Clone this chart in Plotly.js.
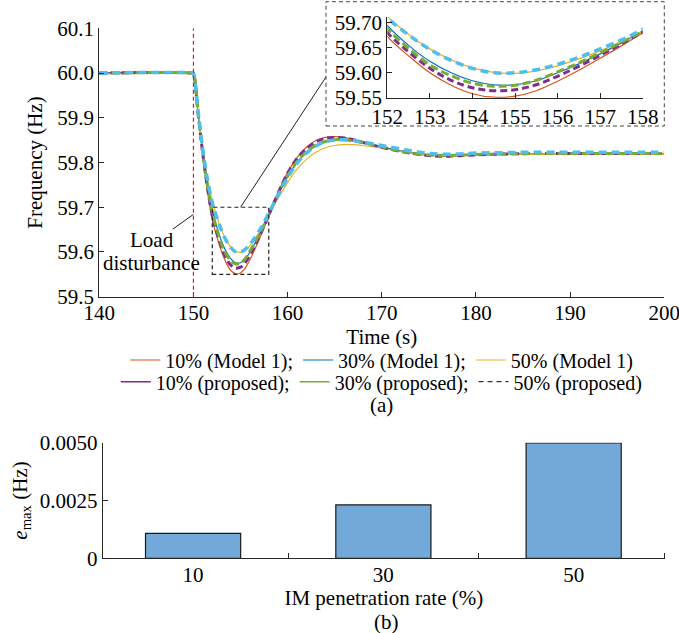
<!DOCTYPE html>
<html>
<head>
<meta charset="utf-8">
<script src="https://cdn.plot.ly/plotly-3.0.1.min.js"></script>
<style>
html,body{margin:0;padding:0;background:#fff;font-family:'Liberation Serif','Times New Roman',serif}
#chart{width:679px;height:633px}
svg text, svg tspan { font-family: 'Liberation Serif', 'Times New Roman', serif !important; }
</style>
</head>
<body>
<div id="chart"></div>
<script>
// ---- Data ----
const T = [140, 149.9, 150, 150.5, 151, 151.5, 152, 152.5, 153, 153.5, 154, 154.5, 155, 155.5, 156, 156.5, 157, 157.5, 158,
  159, 160, 161, 162, 163, 164, 165, 166, 167, 168, 170, 172, 174, 176, 178, 180, 183, 186, 190, 195, 200];

const f10Model1 = [60.000, 60.000, 59.999, 59.908, 59.815, 59.735, 59.673, 59.634, 59.600, 59.575, 59.558, 59.551, 59.553, 59.564, 59.583, 59.605, 59.629, 59.654, 59.680,
  59.733, 59.778, 59.811, 59.834, 59.849, 59.856, 59.858, 59.856, 59.851, 59.845, 59.834, 59.825, 59.818, 59.815, 59.816, 59.818, 59.819, 59.819, 59.819, 59.819, 59.819];
const f30Model1 = [60.000, 60.000, 59.999, 59.910, 59.822, 59.750, 59.695, 59.655, 59.623, 59.600, 59.584, 59.576, 59.576, 59.584, 59.600, 59.618, 59.638, 59.660, 59.683,
  59.728, 59.768, 59.800, 59.822, 59.837, 59.846, 59.850, 59.850, 59.848, 59.844, 59.835, 59.826, 59.819, 59.816, 59.816, 59.818, 59.819, 59.819, 59.819, 59.819, 59.819];
const f50Model1 = [59.998, 59.998, 59.997, 59.913, 59.828, 59.762, 59.713, 59.677, 59.648, 59.626, 59.610, 59.601, 59.599, 59.604, 59.614, 59.628, 59.644, 59.662, 59.683,
  59.720, 59.755, 59.785, 59.807, 59.823, 59.833, 59.838, 59.840, 59.840, 59.838, 59.832, 59.825, 59.819, 59.816, 59.816, 59.817, 59.818, 59.818, 59.818, 59.818, 59.818];
const f10Proposed = [60.000, 60.000, 59.999, 59.909, 59.818, 59.742, 59.681, 59.642, 59.609, 59.585, 59.570, 59.564, 59.566, 59.576, 59.593, 59.613, 59.635, 59.658, 59.682,
  59.732, 59.776, 59.809, 59.831, 59.846, 59.854, 59.856, 59.855, 59.851, 59.845, 59.834, 59.825, 59.818, 59.814, 59.815, 59.817, 59.819, 59.820, 59.820, 59.820, 59.820];
const f30Proposed = [60.000, 60.000, 59.999, 59.910, 59.820, 59.747, 59.689, 59.649, 59.616, 59.594, 59.579, 59.573, 59.575, 59.585, 59.602, 59.620, 59.640, 59.661, 59.683,
  59.729, 59.769, 59.802, 59.824, 59.839, 59.847, 59.851, 59.851, 59.848, 59.844, 59.835, 59.826, 59.819, 59.816, 59.816, 59.818, 59.819, 59.820, 59.820, 59.820, 59.820];
const f50Proposed = [60.000, 60.000, 59.999, 59.913, 59.828, 59.761, 59.711, 59.676, 59.647, 59.625, 59.609, 59.600, 59.600, 59.606, 59.617, 59.631, 59.648, 59.666, 59.687,
  59.727, 59.766, 59.798, 59.821, 59.837, 59.846, 59.850, 59.851, 59.849, 59.846, 59.838, 59.830, 59.823, 59.819, 59.819, 59.821, 59.822, 59.823, 59.823, 59.823, 59.823];

const seriesNames = ['10% (Model 1);', '30% (Model 1);', '50% (Model 1)', '10% (proposed);', '30% (proposed);', '50% (proposed)'];

const penetration = [10, 30, 50];
const eMax = [0.00108, 0.00231, 0.00499];
const barTickVals = [0, 0.0025, 0.005];
const barTickText = ['0', '0.0025', '0.0050'];
const barCatText = ['10', '30', '50'];

// ---- Styles ----
const FONT = 'Liberation Serif';
const FS = 21;
const LFS = 20;
const AX = '#262626';
const styles = [
  {color: '#D95319', width: 1.2, dash: 'solid'},
  {color: '#0072BD', width: 1.2, dash: 'solid'},
  {color: '#EDB120', width: 1.2, dash: 'solid'},
  {color: '#7E2F8E', width: 3, dash: '7px,4px'},
  {color: '#77AC30', width: 3, dash: '8px,4px'},
  {color: '#4DBEEE', width: 3.5, dash: '8px,5px'}
];
const values = [f10Model1, f30Model1, f50Model1, f10Proposed, f30Proposed, f50Proposed];

const traces = [];
values.forEach((v, i) => {
  traces.push({
    x: T, y: v, type: 'scatter', mode: 'lines', name: seriesNames[i],
    xaxis: 'x', yaxis: 'y',
    line: {color: styles[i].color, width: styles[i].width, dash: styles[i].dash, shape: 'spline', smoothing: 1},
    showlegend: i < 3, legend: 'legend', hoverinfo: 'skip'
  });
});
values.forEach((v, i) => {
  traces.push({
    x: T, y: v, type: 'scatter', mode: 'lines', name: seriesNames[i],
    xaxis: 'x2', yaxis: 'y2',
    line: {color: styles[i].color, width: styles[i].width, dash: styles[i].dash, shape: 'spline', smoothing: 1},
    showlegend: false, hoverinfo: 'skip'
  });
});
const legendSamples = [
  {color: '#7E2F8E', width: 1.5, dash: 'solid'},
  {color: '#77AC30', width: 1.5, dash: 'solid'},
  {color: '#333333', width: 1.2, dash: '5px,4px'}
];
legendSamples.forEach((s, k) => {
  traces.push({
    x: [null], y: [null], type: 'scatter', mode: 'lines', name: seriesNames[3 + k],
    xaxis: 'x', yaxis: 'y', line: s, showlegend: true, legend: 'legend2', hoverinfo: 'skip'
  });
});
traces.push({
  x: penetration, y: eMax, type: 'bar', xaxis: 'x3', yaxis: 'y3', width: 10,
  marker: {color: '#72A9D8', line: {color: '#1a1a1a', width: 1.2}},
  showlegend: false, hoverinfo: 'skip'
});

const W = 679, H = 633;
const px = v => v / W;
const py = v => 1 - v / H;

function fnt(size) { return {family: FONT, size: size}; }

function axisCommon() {
  return {
    showline: true, linecolor: AX, linewidth: 1, mirror: false,
    showgrid: false, zeroline: false,
    ticks: 'inside', ticklen: 5, tickcolor: AX, tickwidth: 1,
    ticklabeloverflow: 'allow',
    tickfont: fnt(FS)
  };
}

const layout = {
  width: W, height: H, autosize: false,
  margin: {l: 0, r: 0, t: 0, b: 0, pad: 0},
  paper_bgcolor: '#fff', plot_bgcolor: 'rgba(0,0,0,0)',
  font: {family: FONT, size: FS, color: '#000'},
  showlegend: true,
  xaxis: Object.assign(axisCommon(), {
    domain: [px(99.3), px(664.3)], range: [140, 200.01], anchor: 'y',
    tickmode: 'linear', tick0: 140, dtick: 10, ticklabelstandoff: -3,
    title: {text: 'Time (s)', font: fnt(FS), standoff: 0}
  }),
  yaxis: Object.assign(axisCommon(), {
    domain: [py(296.7), py(28.3)], range: [59.5, 60.1], anchor: 'x',
    tickmode: 'linear', tick0: 59.5, dtick: 0.1, tickformat: '.1f',
    title: {text: 'Frequency (Hz)', font: fnt(FS), standoff: 8}
  }),
  xaxis2: Object.assign(axisCommon(), {
    domain: [px(387.3), px(642.7)], range: [152, 158], anchor: 'y2',
    tickmode: 'linear', tick0: 152, dtick: 1
  }),
  yaxis2: Object.assign(axisCommon(), {
    domain: [py(97.7), py(17)], range: [59.55, 59.712], anchor: 'x2',
    tickmode: 'linear', tick0: 59.55, dtick: 0.05, tickformat: '.2f'
  }),
  xaxis3: Object.assign(axisCommon(), {
    domain: [px(102.7), px(665)], range: [0.5, 59.6], anchor: 'y3',
    tickmode: 'array', tickvals: penetration, ticktext: barCatText, ticks: '', ticklabelstandoff: -3,
    minor: {tickmode: 'array', tickvals: [20, 40, 59.55], ticks: 'inside', ticklen: 5, tickcolor: AX, tickwidth: 1, showgrid: false},
    title: {text: 'IM penetration rate (%)', font: fnt(FS), standoff: 0}
  }),
  yaxis3: Object.assign(axisCommon(), {
    domain: [py(558.3), py(442.7)], range: [0, 0.005], anchor: 'x3',
    tickmode: 'array', tickvals: barTickVals, ticktext: barTickText,
    title: {text: '<i>e</i><sub>max</sub> (Hz)', font: fnt(FS), standoff: 6}
  }),
  legend: {
    x: px(381.8), xanchor: 'center', y: py(360), yanchor: 'middle',
    orientation: 'h', bgcolor: 'rgba(0,0,0,0)', borderwidth: 0,
    font: fnt(LFS), itemwidth: 30, tracegroupgap: 0
  },
  legend2: {
    x: px(381.8), xanchor: 'center', y: py(381.7), yanchor: 'middle',
    orientation: 'h', bgcolor: 'rgba(0,0,0,0)', borderwidth: 0,
    font: fnt(LFS), itemwidth: 30, tracegroupgap: 0
  },
  shapes: [
    {type: 'line', xref: 'x', yref: 'y', x0: 150, x1: 150, y0: 59.5, y1: 60.1,
     line: {color: '#E8141B', width: 1.2, dash: '4px,3px'}},
    {type: 'rect', xref: 'x', yref: 'y', x0: 152, x1: 158, y0: 59.55, y1: 59.7,
     line: {color: '#222', width: 1.2, dash: '4px,3px'}},
    {type: 'line', xref: 'x', yref: 'y', x0: 155, y0: 59.7, x1: 164.07, y1: 59.991,
     line: {color: '#222', width: 1}},
    {type: 'line', xref: 'x', yref: 'y', x0: 150, y0: 59.684, x1: 147.8, y1: 59.651,
     line: {color: '#222', width: 1}},
    {type: 'rect', xref: 'paper', yref: 'paper', x0: px(326), x1: px(664.3), y0: py(126), y1: py(1.7),
     line: {color: '#444', width: 1, dash: '4px,3px'}}
  ],
  annotations: [
    {xref: 'x', yref: 'y', x: 145.56, y: 59.626, text: 'Load', showarrow: false,
     font: fnt(FS), xanchor: 'center', yanchor: 'middle'},
    {xref: 'x', yref: 'y', x: 145.56, y: 59.576, text: 'disturbance', showarrow: false,
     font: fnt(FS), xanchor: 'center', yanchor: 'middle'},
    {xref: 'paper', yref: 'paper', x: px(381.8), y: py(405), text: '(a)', showarrow: false,
     font: fnt(FS), xanchor: 'center', yanchor: 'middle'},
    {xref: 'paper', yref: 'paper', x: px(386), y: py(622), text: '(b)', showarrow: false,
     font: fnt(FS), xanchor: 'center', yanchor: 'middle'}
  ]
};

Plotly.newPlot('chart', traces, layout, {staticPlot: true, displayModeBar: false});
</script>
</body>
</html>
